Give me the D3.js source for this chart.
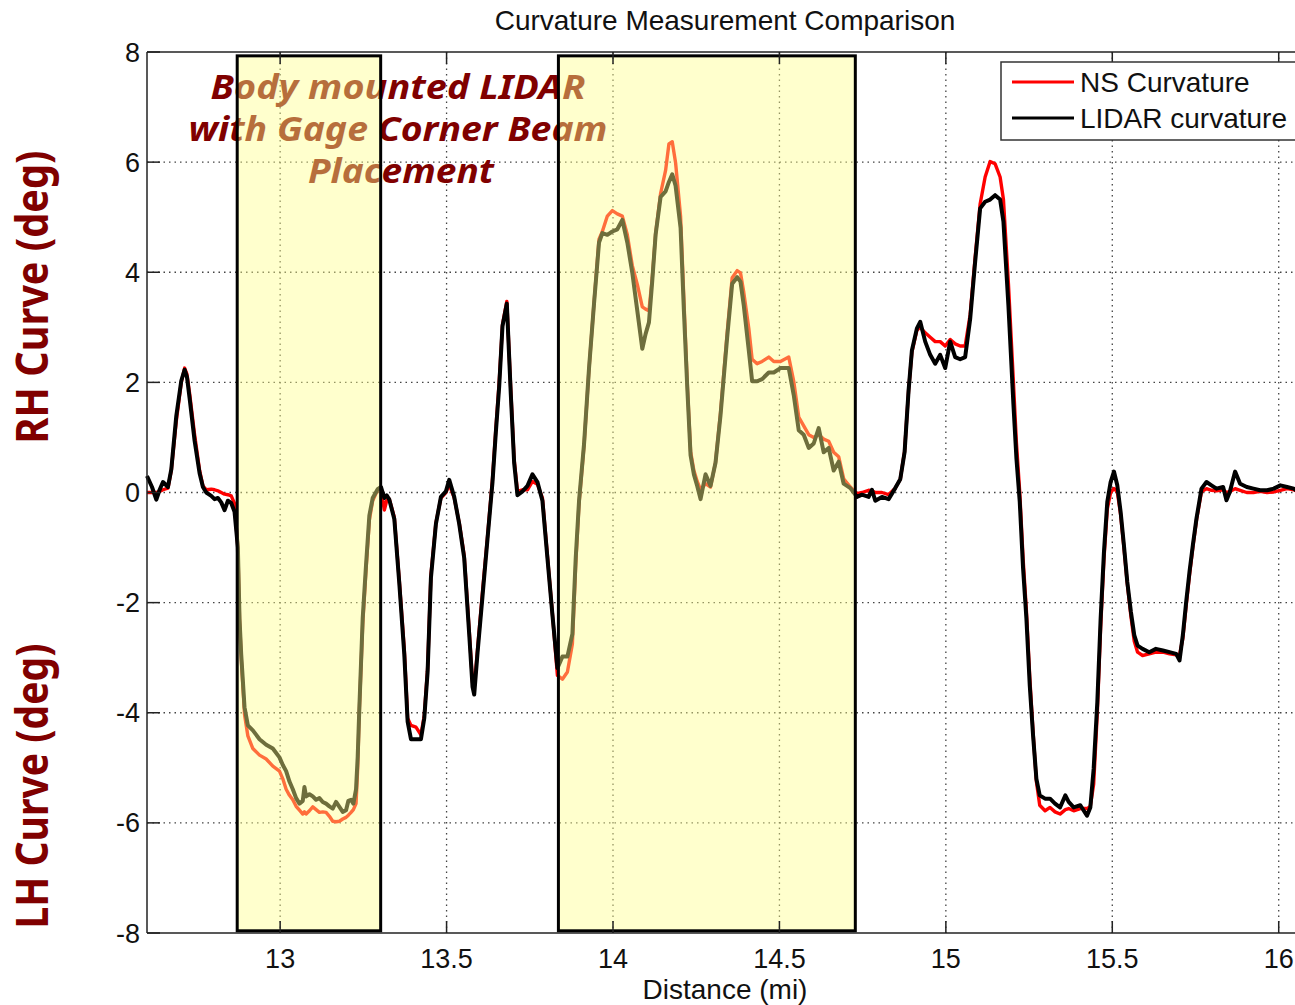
<!DOCTYPE html>
<html>
<head>
<meta charset="utf-8">
<script src="https://cdn.jsdelivr.net/npm/d3@7"></script>
<style>
  body { margin: 0; background: #fff; }
  svg { display: block; }
</style>
</head>
<body>
<svg id="chart" width="1295" height="1005"></svg>
<script>
// distance along track (mi), shared by both series
var distance = [12.600,12.615,12.628,12.638,12.648,12.663,12.673,12.688,12.703,12.713,12.720,12.728,12.743,12.758,12.768,12.778,12.793,12.803,12.813,12.823,12.833,12.843,12.853,12.863,12.873,12.878,12.883,12.893,12.903,12.918,12.938,12.958,12.978,12.998,13.008,13.018,13.028,13.038,13.048,13.058,13.068,13.073,13.078,13.088,13.098,13.108,13.118,13.128,13.138,13.148,13.158,13.168,13.178,13.188,13.198,13.205,13.213,13.220,13.228,13.233,13.238,13.248,13.258,13.268,13.278,13.293,13.303,13.313,13.320,13.328,13.343,13.358,13.373,13.383,13.393,13.408,13.423,13.433,13.443,13.453,13.468,13.483,13.498,13.508,13.523,13.538,13.553,13.568,13.578,13.583,13.593,13.608,13.623,13.638,13.648,13.658,13.668,13.681,13.693,13.703,13.713,13.728,13.743,13.758,13.773,13.788,13.803,13.818,13.833,13.848,13.863,13.878,13.888,13.898,13.913,13.928,13.943,13.958,13.968,13.983,13.998,14.013,14.028,14.043,14.058,14.073,14.088,14.098,14.108,14.118,14.128,14.143,14.158,14.168,14.178,14.188,14.203,14.213,14.223,14.233,14.243,14.253,14.263,14.278,14.293,14.308,14.323,14.343,14.358,14.373,14.383,14.393,14.408,14.418,14.433,14.448,14.468,14.483,14.503,14.528,14.543,14.558,14.573,14.588,14.603,14.618,14.633,14.648,14.663,14.678,14.693,14.713,14.733,14.748,14.768,14.778,14.788,14.808,14.828,14.848,14.863,14.876,14.888,14.898,14.913,14.923,14.938,14.953,14.968,14.983,14.998,15.013,15.028,15.043,15.058,15.073,15.088,15.103,15.118,15.133,15.148,15.163,15.173,15.188,15.203,15.212,15.222,15.232,15.242,15.252,15.262,15.272,15.282,15.298,15.313,15.328,15.343,15.359,15.369,15.384,15.404,15.424,15.434,15.444,15.455,15.465,15.475,15.485,15.495,15.505,15.515,15.525,15.535,15.545,15.556,15.566,15.576,15.591,15.611,15.631,15.652,15.672,15.692,15.702,15.712,15.722,15.732,15.742,15.753,15.768,15.783,15.798,15.813,15.833,15.843,15.853,15.869,15.884,15.904,15.924,15.944,15.965,15.985,16.005,16.025,16.045,16.060,16.100];

var lidarCurv = [0.30,0.10,-0.13,0.05,0.19,0.10,0.42,1.39,2.03,2.23,2.10,1.71,0.94,0.35,0.10,0.00,-0.06,-0.12,-0.10,-0.18,-0.32,-0.15,-0.19,-0.35,-1.00,-2.30,-2.94,-3.90,-4.23,-4.32,-4.48,-4.58,-4.65,-4.81,-4.95,-5.06,-5.25,-5.39,-5.55,-5.65,-5.60,-5.35,-5.52,-5.48,-5.52,-5.58,-5.55,-5.62,-5.65,-5.70,-5.74,-5.62,-5.71,-5.80,-5.77,-5.60,-5.58,-5.65,-5.39,-4.80,-3.90,-2.29,-1.32,-0.42,-0.10,0.06,0.10,-0.10,-0.05,-0.13,-0.48,-1.65,-2.94,-4.16,-4.48,-4.48,-4.48,-4.10,-3.26,-1.55,-0.57,-0.08,0.02,0.23,-0.08,-0.57,-1.19,-2.57,-3.53,-3.67,-2.91,-1.88,-0.84,0.19,1.09,1.92,3.02,3.43,1.78,0.54,-0.05,0.02,0.12,0.33,0.19,-0.15,-1.19,-2.22,-3.19,-2.98,-2.98,-2.57,-1.19,-0.15,0.88,2.26,3.43,4.54,4.71,4.68,4.74,4.78,4.95,4.54,3.99,3.30,2.61,2.88,3.09,3.85,4.68,5.37,5.47,5.64,5.78,5.57,4.81,3.30,1.92,0.68,0.33,0.12,-0.12,0.33,0.12,0.54,1.40,2.82,3.79,3.91,3.83,3.39,2.58,2.02,2.02,2.06,2.18,2.18,2.26,2.26,1.77,1.13,1.05,0.81,0.89,1.17,0.73,0.81,0.40,0.56,0.16,0.08,-0.08,-0.04,-0.08,0.05,-0.15,-0.08,-0.12,0.08,0.24,0.73,1.85,2.58,2.98,3.10,2.74,2.50,2.34,2.50,2.26,2.74,2.46,2.42,2.46,3.15,4.19,5.16,5.28,5.32,5.40,5.32,4.92,3.39,1.60,0.62,-0.17,-1.38,-2.29,-3.50,-4.41,-5.20,-5.50,-5.56,-5.56,-5.65,-5.72,-5.50,-5.62,-5.72,-5.68,-5.87,-5.72,-5.02,-3.81,-2.29,-1.08,-0.17,0.19,0.38,0.13,-0.35,-0.96,-1.62,-2.17,-2.59,-2.78,-2.84,-2.90,-2.84,-2.87,-2.90,-2.93,-3.05,-2.59,-1.99,-1.44,-0.96,-0.47,0.07,0.19,0.13,0.07,0.10,-0.14,0.01,0.38,0.16,0.10,0.07,0.04,0.04,0.07,0.13,0.10,0.07,0.01,0.05];

var nsCurv = [0.00,0.00,0.00,0.02,0.05,0.08,0.40,1.30,2.00,2.26,2.15,1.80,1.05,0.40,0.12,0.05,0.06,0.05,0.03,0.00,-0.03,-0.04,-0.06,-0.20,-1.00,-2.30,-3.00,-4.03,-4.42,-4.65,-4.77,-4.84,-4.97,-5.06,-5.20,-5.39,-5.50,-5.58,-5.70,-5.77,-5.84,-5.80,-5.84,-5.78,-5.71,-5.76,-5.81,-5.80,-5.81,-5.88,-5.97,-5.98,-5.97,-5.93,-5.90,-5.86,-5.81,-5.76,-5.65,-5.00,-3.95,-2.40,-1.40,-0.50,-0.15,0.05,0.08,-0.32,-0.15,-0.12,-0.45,-1.60,-2.85,-4.10,-4.23,-4.26,-4.40,-4.05,-3.20,-1.50,-0.55,-0.10,0.00,0.15,-0.10,-0.55,-1.15,-2.50,-3.45,-3.55,-2.85,-1.80,-0.80,0.25,1.15,2.00,3.05,3.47,1.85,0.60,0.02,0.05,0.05,0.20,0.15,-0.10,-1.15,-2.20,-3.32,-3.39,-3.26,-2.75,-1.30,-0.20,0.85,2.25,3.45,4.60,4.74,5.02,5.12,5.06,5.02,4.68,4.12,3.78,3.37,3.33,3.30,3.90,4.70,5.43,5.85,6.33,6.37,5.99,5.02,3.50,2.00,0.75,0.40,0.20,0.05,0.16,0.10,0.55,1.45,2.90,3.90,4.03,3.99,3.63,2.98,2.42,2.34,2.38,2.46,2.38,2.38,2.46,2.02,1.37,1.21,1.05,1.00,1.05,0.97,0.93,0.73,0.65,0.25,0.10,-0.02,0.00,0.04,0.03,0.00,0.00,-0.04,0.08,0.24,0.75,1.85,2.55,2.95,3.00,2.90,2.82,2.74,2.74,2.66,2.78,2.70,2.66,2.66,3.23,4.27,5.24,5.73,6.01,5.97,5.73,5.32,3.79,2.00,0.90,0.00,-1.20,-2.15,-3.35,-4.35,-5.25,-5.68,-5.78,-5.72,-5.80,-5.84,-5.76,-5.74,-5.78,-5.74,-5.74,-5.70,-5.30,-4.00,-2.45,-1.20,-0.30,0.00,0.07,0.02,-0.40,-1.00,-1.65,-2.25,-2.70,-2.90,-2.96,-2.93,-2.90,-2.90,-2.93,-2.95,-2.95,-2.65,-2.05,-1.50,-1.00,-0.50,0.02,0.07,0.04,0.03,0.05,0.00,0.02,0.07,0.04,0.00,0.00,0.02,0.00,0.01,0.04,0.07,0.05,0.01,0.05];

var xTicks = [13, 13.5, 14, 14.5, 15, 15.5, 16];
var yTicks = [-8, -6, -4, -2, 0, 2, 4, 6, 8];
// highlighted stretches (mi) and their vertical extent (deg)
var boxStart = [12.871, 13.836];
var boxEnd = [13.302, 14.728];
var boxTop = 7.93, boxBottom = -7.96;
var noteLines = ['Body mounted LIDAR', 'with Gage Corner Beam', 'Placement'];
var seriesNames = ['NS Curvature', 'LIDAR curvature'];

var svg = d3.select('#chart');
var padL = 147, padR = 1312, padT = 52, padB = 933;

var x = d3.scaleLinear().domain([12.6, 16.1]).range([padL, padR]);
var y = d3.scaleLinear().domain([-8, 8]).range([padB, padT]);

var font = 'Liberation Sans, Arial, Helvetica, sans-serif';
var darkRed = '#800000';

// grid
svg.append('g').selectAll('line').data(xTicks).enter().append('line')
  .attr('x1', d => x(d)).attr('x2', d => x(d))
  .attr('y1', padT).attr('y2', padB)
  .attr('stroke', '#444').attr('stroke-width', 1.3)
  .attr('stroke-dasharray', '1.5,4');
svg.append('g').selectAll('line').data(yTicks.slice(1, -1)).enter().append('line')
  .attr('x1', padL).attr('x2', padR)
  .attr('y1', d => y(d)).attr('y2', d => y(d))
  .attr('stroke', '#444').attr('stroke-width', 1.3)
  .attr('stroke-dasharray', '1.5,4');

var pts = distance.map((d, i) => ({d: d, ns: nsCurv[i], lidar: lidarCurv[i]}));

var lineNs = d3.line().x(p => x(p.d)).y(p => y(p.ns));
var lineLidar = d3.line().x(p => x(p.d)).y(p => y(p.lidar));

svg.append('path').datum(pts)
  .attr('d', lineNs)
  .attr('fill', 'none').attr('stroke', '#ff0000')
  .attr('stroke-width', 3.4).attr('stroke-linejoin', 'round');
svg.append('path').datum(pts)
  .attr('d', lineLidar)
  .attr('fill', 'none').attr('stroke', '#000')
  .attr('stroke-width', 4).attr('stroke-linejoin', 'round');

// annotation
var note = svg.append('g')
  .attr('font-family', 'Noto Sans, Open Sans, sans-serif')
  .attr('font-weight', 'bold').attr('font-style', 'italic')
  .attr('font-size', 34).attr('fill', darkRed)
  .attr('text-anchor', 'middle');
var noteY = [99, 141, 183], noteW = [375, 419, 186], noteX = [398, 398, 401];
noteLines.forEach(function(t, i) {
  note.append('text').attr('x', noteX[i]).attr('y', noteY[i])
    .attr('textLength', noteW[i]).attr('lengthAdjust', 'spacingAndGlyphs')
    .text(t);
});

// translucent yellow highlight boxes
var boxes = boxStart.map((s, i) => ({s: s, e: boxEnd[i]}));
svg.append('g').selectAll('rect').data(boxes).enter().append('rect')
  .attr('x', b => x(b.s)).attr('width', b => x(b.e) - x(b.s))
  .attr('y', y(boxTop)).attr('height', y(boxBottom) - y(boxTop))
  .attr('fill', '#ffff8c').attr('fill-opacity', 0.43)
  .attr('stroke', '#000').attr('stroke-width', 3);

// axes frame
svg.append('line').attr('x1', padL).attr('x2', padR).attr('y1', padT).attr('y2', padT)
  .attr('stroke', '#222').attr('stroke-width', 1.5);
svg.append('line').attr('x1', padL).attr('x2', padR).attr('y1', padB).attr('y2', padB)
  .attr('stroke', '#222').attr('stroke-width', 1.5);
svg.append('line').attr('x1', padL).attr('x2', padL).attr('y1', padT).attr('y2', padB)
  .attr('stroke', '#222').attr('stroke-width', 1.5);

// inward ticks
var tk = svg.append('g').attr('stroke', '#222').attr('stroke-width', 1.5);
xTicks.forEach(function(t) {
  tk.append('line').attr('x1', x(t)).attr('x2', x(t)).attr('y1', padB).attr('y2', padB - 12);
  tk.append('line').attr('x1', x(t)).attr('x2', x(t)).attr('y1', padT).attr('y2', padT + 12);
});
yTicks.forEach(function(t) {
  tk.append('line').attr('x1', padL).attr('x2', padL + 13).attr('y1', y(t)).attr('y2', y(t));
});

// tick labels
svg.append('g').selectAll('text').data(xTicks).enter().append('text')
  .attr('x', d => x(d)).attr('y', 968)
  .attr('text-anchor', 'middle')
  .attr('font-family', font).attr('font-size', 27).attr('fill', '#111')
  .text(d => d);
svg.append('g').selectAll('text').data(yTicks).enter().append('text')
  .attr('x', 140).attr('y', d => y(d) + 9.5)
  .attr('text-anchor', 'end')
  .attr('font-family', font).attr('font-size', 27).attr('fill', '#111')
  .text(d => d);

// titles
svg.append('text').attr('x', 725).attr('y', 30)
  .attr('text-anchor', 'middle')
  .attr('font-family', font).attr('font-size', 28).attr('fill', '#111')
  .text('Curvature Measurement Comparison');
svg.append('text').attr('x', 725).attr('y', 999)
  .attr('text-anchor', 'middle')
  .attr('font-family', font).attr('font-size', 28).attr('fill', '#111')
  .text('Distance (mi)');

// side labels
var side = [{t: 'RH Curve (deg)', cy: 297, w: 293}, {t: 'LH Curve (deg)', cy: 786, w: 285}];
svg.append('g').selectAll('text').data(side).enter().append('text')
  .attr('transform', s => 'translate(48,' + s.cy + ') rotate(-90)')
  .attr('text-anchor', 'middle')
  .attr('font-family', 'Noto Sans, Open Sans, sans-serif')
  .attr('font-weight', 'bold').attr('font-size', 44).attr('fill', darkRed)
  .attr('textLength', s => s.w).attr('lengthAdjust', 'spacingAndGlyphs')
  .text(s => s.t);

// legend
var lg = svg.append('g');
lg.append('rect').attr('x', 1001).attr('y', 62).attr('width', 310).attr('height', 78)
  .attr('fill', '#fff').attr('stroke', '#333').attr('stroke-width', 1.5);
var legColors = ['#ff0000', '#000'];
seriesNames.forEach(function(n, i) {
  var ly = 82 + i * 36;
  lg.append('line').attr('x1', 1012).attr('x2', 1074).attr('y1', ly).attr('y2', ly)
    .attr('stroke', legColors[i]).attr('stroke-width', 3);
  lg.append('text').attr('x', 1080).attr('y', ly + 10)
    .attr('font-family', font).attr('font-size', 28).attr('fill', '#111')
    .text(n);
});
</script>
</body>
</html>
